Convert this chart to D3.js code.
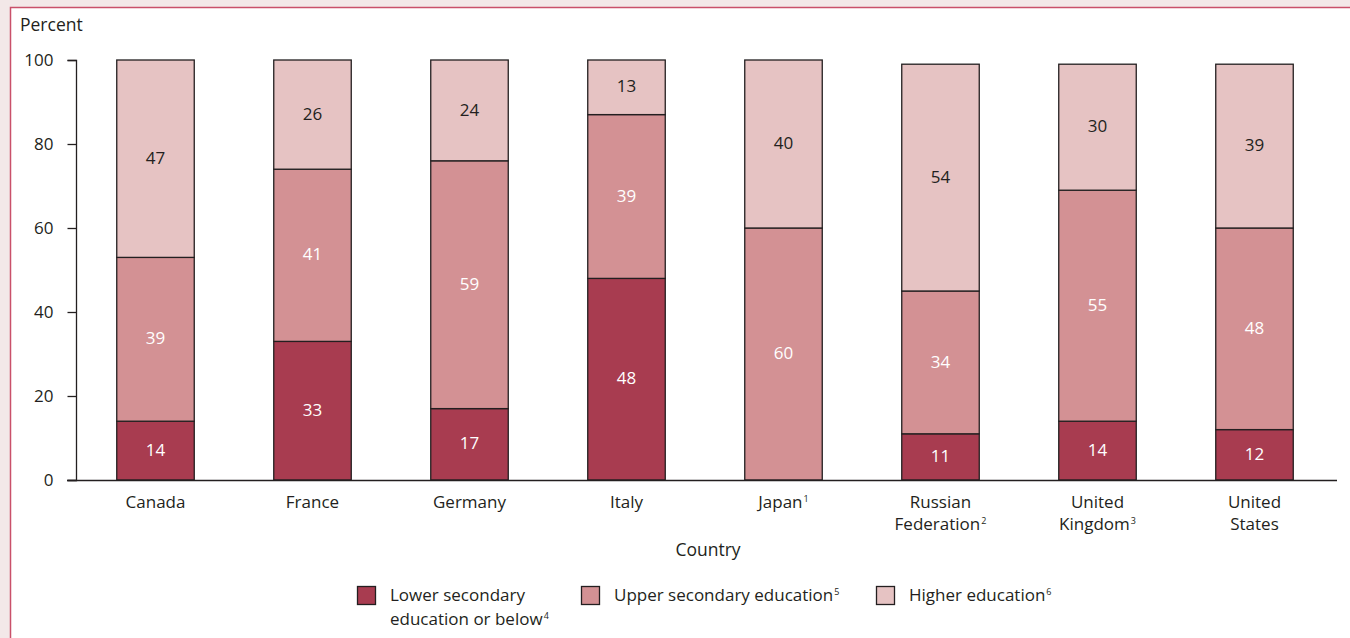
<!DOCTYPE html>
<html><head><meta charset="utf-8">
<script src="https://cdn.jsdelivr.net/npm/d3@7"></script>
<style>
html,body{margin:0;padding:0;background:#f3e8e8;}
svg{display:block;}
text{font-family:"Open Sans","Noto Sans",sans-serif;fill:#231f20;}
</style></head><body>
<svg id="c" width="1350" height="638"></svg>
<script>
const countries = ["Canada","France","Germany","Italy","Japan","Russian Federation","United Kingdom","United States"];
const countryLines = [["Canada"],["France"],["Germany"],["Italy"],["Japan|1"],["Russian","Federation|2"],["United","Kingdom|3"],["United","States"]];
const lowerSecondary = [14,33,17,48,0,11,14,12];
const upperSecondary = [39,41,59,39,60,34,55,48];
const higherEducation = [47,26,24,13,40,54,30,39];
const seriesNames = ["Lower secondary education or below","Upper secondary education","Higher education"];
const seriesLegend = [["Lower secondary","education or below|4"],["Upper secondary education|5"],["Higher education|6"]];
const seriesColors = ["#a83c50","#d39194","#e6c3c3"];
const labelColors = ["#ffffff","#ffffff","#231f20"];
const yTicks = [0,20,40,60,80,100];

const svg = d3.select("#c");
// panel
svg.append("rect").attr("x",10.5).attr("y",7.5).attr("width",1345).attr("height",640)
  .attr("fill","#ffffff").attr("stroke","#c9506a").attr("stroke-width",1.5);

const x = d3.scaleBand().domain(countries).range([77,1333]).paddingInner(0.5).paddingOuter(0.25);
const y = d3.scaleLinear().domain([0,100]).range([480,60]);

const data = countries.map((c,i)=>({country:c,lower:lowerSecondary[i],upper:upperSecondary[i],higher:higherEducation[i]}));
const stack = d3.stack().keys(["lower","upper","higher"]);
const series = stack(data);

const g = svg.append("g");
series.forEach((s,si)=>{
  const grp = g.append("g");
  grp.selectAll("rect").data(s.filter(d=>d[1]-d[0]>0)).join("rect")
    .attr("x",d=>x(d.data.country)+0.5).attr("width",x.bandwidth()-1)
    .attr("y",d=>y(d[1])).attr("height",d=>y(d[0])-y(d[1]))
    .attr("fill",seriesColors[si]).attr("stroke","#231f20").attr("stroke-width",1.3);
  grp.selectAll("text").data(s.filter(d=>d[1]-d[0]>0)).join("text")
    .attr("x",d=>x(d.data.country)+x.bandwidth()/2)
    .attr("y",d=>(y(d[0])+y(d[1]))/2).attr("dy","0.3em")
    .attr("text-anchor","middle").style("font-size","17px").style("fill",labelColors[si])
    .text(d=>d[1]-d[0]);
});

// y axis
const yAxis = svg.append("g").attr("transform","translate(76.5,0)")
  .call(d3.axisLeft(y).tickValues(yTicks).tickSize(9).tickPadding(14));
yAxis.select(".domain").attr("stroke","#231f20").attr("stroke-width",1.3).attr("d","M-9,60.5H0V480.5H-9");
yAxis.selectAll(".tick line").attr("stroke","#231f20").attr("stroke-width",1.3);
yAxis.selectAll(".tick text").style("font-size","17px").style("font-family","'Open Sans','Noto Sans',sans-serif").attr("fill","#231f20");

// x axis baseline
svg.append("line").attr("x1",67).attr("x2",1337).attr("y1",480.5).attr("y2",480.5)
  .attr("stroke","#231f20").attr("stroke-width",1.3);

function richText(sel, str){
  const parts = str.split("|");
  sel.append("tspan").text(parts[0]);
  if(parts[1]) sel.append("tspan").attr("dx",1).attr("dy",-6).style("font-size","9px").text(parts[1]);
}
// x labels
countries.forEach((c,i)=>{
  countryLines[i].forEach((ln,li)=>{
    const t = svg.append("text").attr("x",x(c)+x.bandwidth()/2).attr("y",508+li*22)
      .attr("text-anchor","middle").style("font-size","17px");
    richText(t, ln);
  });
});

svg.append("text").attr("x",20).attr("y",31).style("font-size","17.5px").text("Percent");
svg.append("text").attr("x",708).attr("y",556).attr("text-anchor","middle").style("font-size","17.5px").text("Country");

// legend
const legendX = [357,581,876];
seriesLegend.forEach((lines,i)=>{
  svg.append("rect").attr("x",legendX[i]+0.5).attr("y",586.5).attr("width",18).attr("height",18)
    .attr("fill",seriesColors[i]).attr("stroke","#231f20").attr("stroke-width",1.3);
  lines.forEach((ln,li)=>{
    const t = svg.append("text").attr("x",legendX[i]+33).attr("y",601+li*24).style("font-size","17px");
    richText(t, ln);
  });
});
</script></body></html>
